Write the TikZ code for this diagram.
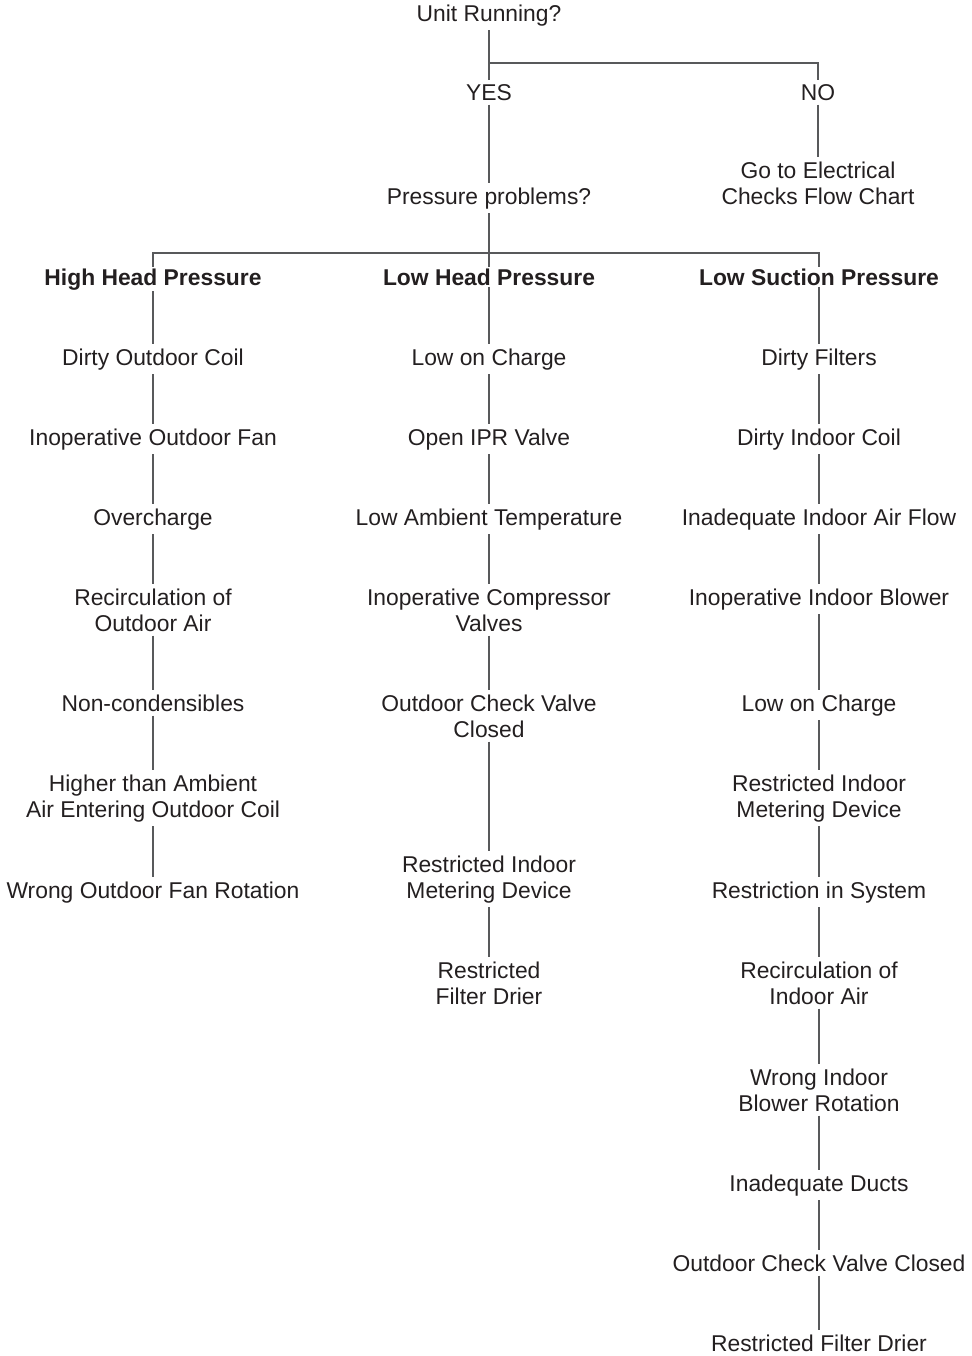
\documentclass[tikz,border=0pt]{standalone}
\usepackage{fontspec}
\setmainfont{Liberation Sans}
\definecolor{inkgray}{HTML}{231F20}
\definecolor{linegray}{HTML}{58595B}

\begin{document}
\begin{tikzpicture}[x=0.02cm, y=-0.02cm, every node/.style={inner sep=0.08cm, align=center, anchor=base, text=inkgray, font=\fontsize{13}{14.7}\selectfont}, head/.style={font=\fontsize{13}{14.7}\selectfont\bfseries}, every edge/.style={draw=linegray, line width=0.04cm}, link/.style={draw=linegray, line width=0.04cm}]
			\useasboundingbox (0,0) rectangle (971,1356);
			% two-line nodes sit on their last line
			\node (unit) at (489,21){Unit Running?};
			\node (yes) at (489,100){YES};
			\node (no) at (818,100){NO};
			\node (elec) at (818,204){Go to Electrical\\Checks Flow Chart};
			\node (press) at (489,204){Pressure problems?};
			\coordinate (split1) at (489,63);
			\coordinate (split2) at (489,253);
			
			\node[head, inner sep=0.02cm] (hhp) at (153,285){High Head Pressure};
			\node[head, inner sep=0.02cm] (lhp) at (489,285){Low Head Pressure};
			\node[head, inner sep=0.02cm] (lsp) at (819,285){Low Suction Pressure};
			
			\node (h1) at (153,365){Dirty Outdoor Coil};
			\node (h2) at (153,445){Inoperative Outdoor Fan};
			\node (h3) at (153,525){Overcharge};
			\node (h4) at (153,631){Recirculation of\\Outdoor Air};
			\node (h5) at (153,711){Non-condensibles};
			\node (h6) at (153,817){Higher than Ambient\\Air Entering Outdoor Coil};
			\node (h7) at (153,898){Wrong Outdoor Fan Rotation};
			
			\node (l1) at (489,365){Low on Charge};
			\node (l2) at (489,445){Open IPR Valve};
			\node (l3) at (489,525){Low Ambient Temperature};
			\node (l4) at (489,631){Inoperative Compressor\\Valves};
			\node (l5) at (489,737){Outdoor Check Valve\\Closed};
			\node (l6) at (489,898){Restricted Indoor\\Metering Device};
			\node (l7) at (489,1004){Restricted\\Filter Drier};
			
			\node (s1) at (819,365){Dirty Filters};
			\node (s2) at (819,445){Dirty Indoor Coil};
			\node (s3) at (819,525){Inadequate Indoor Air Flow};
			\node (s4) at (819,605){Inoperative Indoor Blower};
			\node (s5) at (819,711){Low on Charge};
			\node (s6) at (819,817){Restricted Indoor\\Metering Device};
			\node (s7) at (819,898){Restriction in System};
			\node (s8) at (819,1004){Recirculation of\\Indoor Air};
			\node (s9) at (819,1111){Wrong Indoor\\Blower Rotation};
			\node (s10) at (819,1191){Inadequate Ducts};
			\node (s11) at (819,1271){Outdoor Check Valve Closed};
			\node (s12) at (819,1351){Restricted Filter Drier};
			
			\path (unit) edge (yes);
			\draw[link] (split1) -| (no);
			\path (yes) edge (press);
			\path (no) edge (elec);
			\path (press) edge (lhp);
			\draw[link] (hhp) |- (split2) -| (lsp);
			
			\path (hhp) edge (h1);
			\path (h1) edge (h2);
			\path (h2) edge (h3);
			\path (h3) edge (h4);
			\path (h4) edge (h5);
			\path (h5) edge (h6);
			\path (h6) edge (h7);
			
			\path (lhp) edge (l1);
			\path (l1) edge (l2);
			\path (l2) edge (l3);
			\path (l3) edge (l4);
			\path (l4) edge (l5);
			\path (l5) edge (l6);
			\path (l6) edge (l7);
			
			\path (lsp) edge (s1);
			\path (s1) edge (s2);
			\path (s2) edge (s3);
			\path (s3) edge (s4);
			\path (s4) edge (s5);
			\path (s5) edge (s6);
			\path (s6) edge (s7);
			\path (s7) edge (s8);
			\path (s8) edge (s9);
			\path (s9) edge (s10);
			\path (s10) edge (s11);
			\path (s11) edge (s12);
			\end{tikzpicture}
\end{document}
